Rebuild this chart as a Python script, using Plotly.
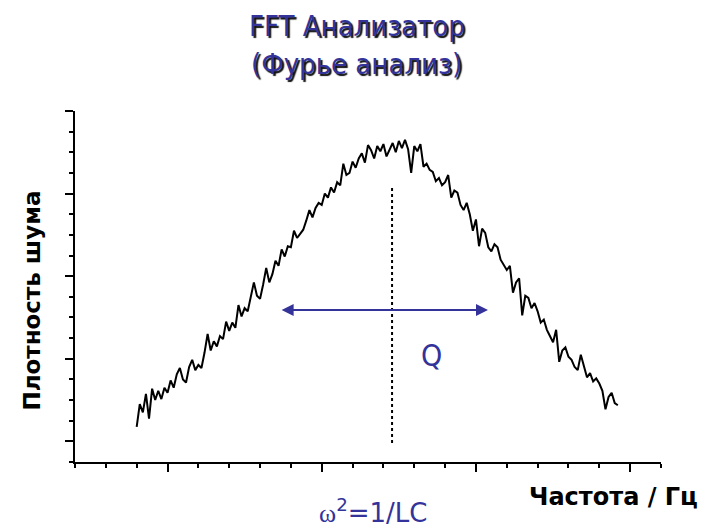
import plotly.graph_objects as go

# frequency axis in minor-tick units, noise density in minor-tick units
freq = [2.0, 2.1, 2.2, 2.3, 2.4, 2.5, 2.6, 2.7, 2.8, 2.9,
        3.0, 3.1, 3.2, 3.3, 3.4, 3.5, 3.6, 3.7, 3.8, 3.9,
        4.0, 4.1, 4.2, 4.3, 4.4, 4.5, 4.6, 4.7, 4.8, 4.9,
        5.0, 5.1, 5.2, 5.3, 5.4, 5.5, 5.6, 5.7, 5.8, 5.9,
        6.0, 6.1, 6.2, 6.3, 6.4, 6.5, 6.6, 6.7, 6.8, 6.9,
        7.0, 7.1, 7.2, 7.3, 7.4, 7.5, 7.6, 7.7, 7.8, 7.9,
        8.0, 8.1, 8.2, 8.3, 8.4, 8.5, 8.6, 8.7, 8.8, 8.9,
        9.0, 9.1, 9.2, 9.3, 9.4, 9.5, 9.6, 9.7, 9.8, 9.9,
        10.0, 10.1, 10.2, 10.3, 10.4, 10.5, 10.6, 10.7, 10.8, 10.9,
        11.0, 11.1, 11.2, 11.3, 11.4, 11.5, 11.6, 11.7, 11.8, 11.9,
        12.0, 12.1, 12.2, 12.3, 12.4, 12.5, 12.6, 12.7, 12.8, 12.9,
        13.0, 13.1, 13.2, 13.3, 13.4, 13.5, 13.6, 13.7, 13.8, 13.9,
        14.0, 14.1, 14.2, 14.3, 14.4, 14.5, 14.6, 14.7, 14.8, 14.9,
        15.0, 15.1, 15.2, 15.3, 15.4, 15.5, 15.6, 15.7, 15.8, 15.9,
        16.0, 16.1, 16.2, 16.3, 16.4, 16.5, 16.6, 16.7, 16.8, 16.9,
        17.0, 17.1, 17.2, 17.3, 17.4, 17.5, 17.6]
density = [1.70, 2.80, 2.40, 3.30, 2.10, 3.55, 3.00, 3.45, 3.05, 3.60,
           3.35, 3.95, 3.60, 4.25, 4.55, 4.00, 3.85, 4.60, 4.95, 4.45,
           4.70, 4.55, 5.30, 6.20, 5.40, 5.85, 5.60, 6.10, 5.95, 6.80,
           6.35, 6.75, 6.50, 7.60, 7.05, 7.45, 7.30, 8.00, 8.70, 8.05,
           7.90, 8.60, 9.40, 8.70, 9.10, 9.75, 9.50, 10.30, 9.95, 10.45,
           10.40, 11.20, 10.85, 11.05, 11.25, 11.70, 12.20, 11.85, 12.30, 12.55,
           12.45, 13.00, 12.80, 13.30, 13.05, 13.55, 13.40, 14.45, 13.90, 14.00,
           14.55, 14.25, 14.70, 14.95, 14.50, 15.35, 15.10, 14.70, 15.30, 15.05,
           15.40, 14.80, 15.10, 15.45, 15.00, 15.55, 15.20, 15.60, 15.15, 14.00,
           15.30, 15.05, 15.40, 14.30, 14.45, 14.15, 14.05, 13.60, 13.75, 13.40,
           13.55, 13.90, 12.80, 13.15, 13.05, 12.45, 12.20, 12.55, 12.00, 11.20,
           11.75, 10.45, 11.30, 11.10, 10.40, 10.20, 10.55, 10.40, 9.80, 9.55,
           9.30, 9.50, 8.20, 8.70, 8.90, 7.10, 8.05, 7.95, 7.45, 7.70,
           7.30, 6.75, 6.90, 6.40, 6.10, 5.80, 6.40, 4.85, 5.40, 5.55,
           5.10, 4.95, 4.60, 4.45, 5.20, 4.70, 4.10, 4.30, 3.90, 4.05,
           3.80, 3.45, 2.55, 3.15, 3.35, 2.85, 2.75]

resonance = 10.28
resonance_span = [0.92, 13.27]
q_left, q_right, q_level = 6.65, 13.39, 7.36

blue = "#333399"
title_font = dict(family="DejaVu Sans Condensed", size=29, color=blue,
                  shadow="2px 2px 1px #111111")

fig = go.Figure()
fig.add_trace(go.Scatter(x=freq, y=density, mode="lines",
                         line=dict(color="black", width=2)))
fig.add_trace(go.Scatter(x=[resonance, resonance], y=resonance_span, mode="lines",
                         line=dict(color="black", width=2, dash="dot")))

fig.add_annotation(x=q_right, y=q_level, ax=q_left, ay=q_level,
                   xref="x", yref="y", axref="x", ayref="y", text="",
                   showarrow=True, arrowside="end+start",
                   arrowhead=2, startarrowhead=2, arrowsize=1.2, startarrowsize=1.2,
                   arrowwidth=2, arrowcolor=blue, standoff=0, startstandoff=0)
fig.add_annotation(x=11.57, y=5.18, text="Q", showarrow=False,
                   font=dict(family="DejaVu Sans Condensed", size=30, color=blue))

# labels outside the plot area, anchored at their centres
outside = dict(xref="paper", yref="paper", showarrow=False, xanchor="center", yanchor="middle")
fig.add_annotation(x=0.509, y=-0.14, **outside,
                   text="<span style='font-family:Liberation Serif'>ω</span><sup>2</sup>=1/LC",
                   font=dict(family="DejaVu Sans", size=26, color=blue))
fig.add_annotation(x=0.919, y=-0.1, **outside, text="<b>Частота / Гц</b>",
                   font=dict(family="DejaVu Sans", size=24, color="black"))
fig.add_annotation(x=-0.075, y=0.46, **outside, textangle=-90, text="<b>Плотность шума</b>",
                   font=dict(family="DejaVu Sans", size=23, color="black"))
fig.add_annotation(x=0.481, y=1.243, **outside, text="FFT Анализатор", font=title_font)
fig.add_annotation(x=0.481, y=1.133, **outside, text="(Фурье анализ)", font=title_font)

axis_style = dict(showgrid=False, zeroline=False, showline=True, linecolor="black",
                  linewidth=2, ticks="outside", ticklen=8, tickwidth=2, tickcolor="black",
                  showticklabels=False)
fig.update_xaxes(range=[0, 19], tickvals=[3, 8, 13, 18],
                 minor=dict(ticks="outside", ticklen=4, tickwidth=2, tickcolor="black",
                            dtick=1, tick0=0),
                 **axis_style)
fig.update_yaxes(range=[0, 17], tickvals=[1, 5, 9, 13, 17],
                 minor=dict(ticks="outside", ticklen=4, tickwidth=2, tickcolor="black",
                            dtick=1, tick0=0),
                 **axis_style)

# the page puts the figure 8px in from the top-left corner
fig.update_layout(width=709, height=521, autosize=False,
                  margin=dict(l=67, r=56, t=103, b=67),
                  plot_bgcolor="white", paper_bgcolor="white", showlegend=False)

fig.write_html("out.html")
